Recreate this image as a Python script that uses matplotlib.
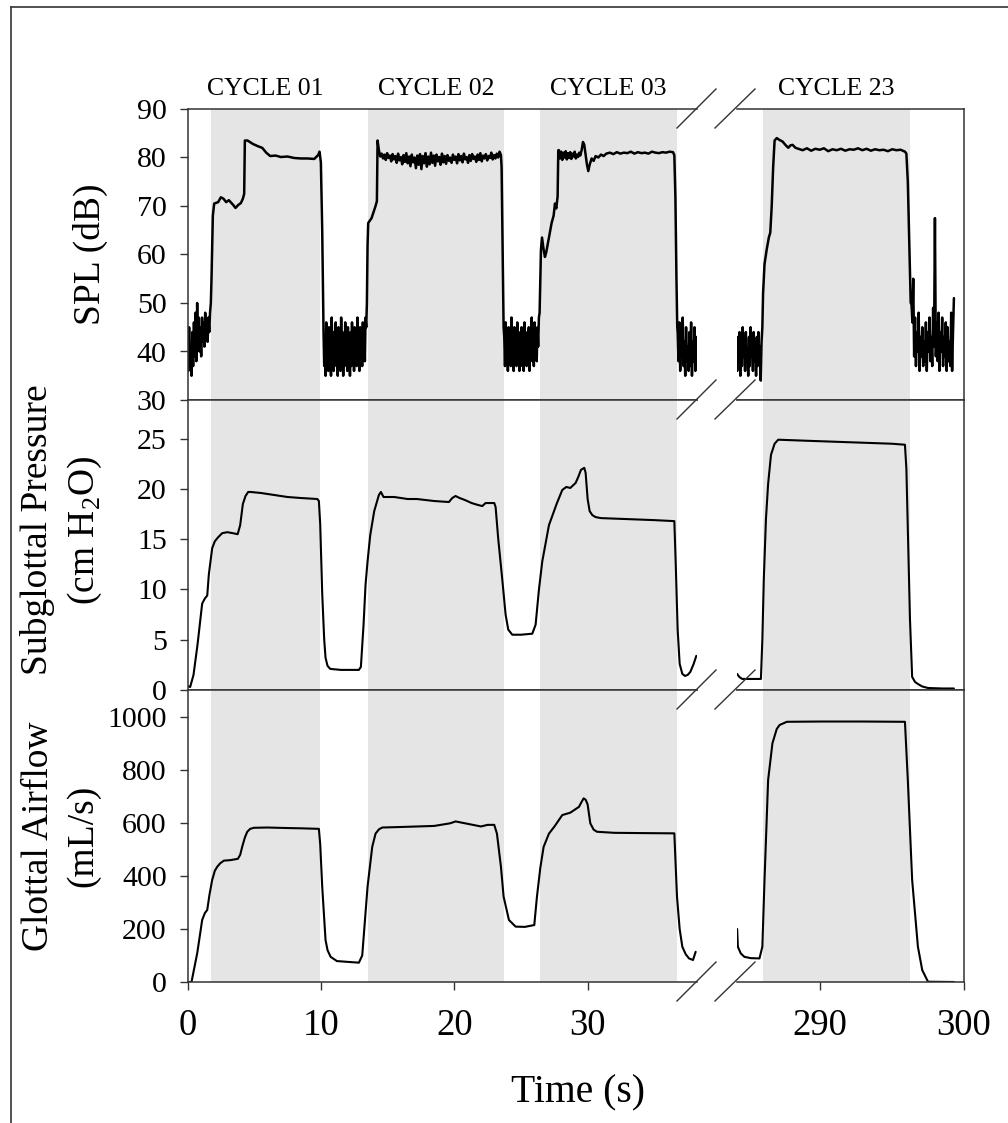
import numpy as np
import matplotlib.pyplot as plt
from matplotlib.lines import Line2D

plt.rcParams['font.family'] = ['Liberation Serif', 'DejaVu Serif']
plt.rcParams['mathtext.fontset'] = 'custom'
plt.rcParams['mathtext.rm'] = 'Liberation Serif'

# ---------------- data ----------------
cycle_names = ['CYCLE 01', 'CYCLE 02', 'CYCLE 03', 'CYCLE 23']
cycle_start = [1.76, 13.53, 26.43, 286.04]
cycle_end = [9.93, 23.73, 36.7, 296.25]

# SPL (dB) -- noisy parts are (t0, t1, samples), the rest (times, values)
spl_quiet_0 = [43, 36, 45, 38, 41, 35, 44, 37, 46, 39, 48, 38, 50, 41, 47, 40,
               45, 39, 47, 42, 46, 41, 48, 43, 46, 42, 47, 44, 48, 50]
spl_c01_t = [1.8, 1.9, 2.0, 2.3, 2.5, 2.7, 2.9, 3.1, 3.4, 3.6, 3.8, 4.0, 4.15,
             4.25, 4.3, 4.5, 4.9, 5.3, 5.6, 5.9, 6.2, 6.6, 7.0, 7.5, 8.0, 8.5,
             9.0, 9.5, 9.8, 9.9, 10.0, 10.1, 10.18]
spl_c01 = [55, 68, 70.5, 70.8, 71.8, 71.5, 70.8, 71.2, 70.3, 69.6, 70.2, 70.6,
           71.5, 72.5, 83.5, 83.5, 82.8, 82.3, 82.0, 81.0, 80.3, 80.4, 80.1,
           80.2, 79.9, 79.8, 79.8, 79.7, 80.5, 81.2, 79.0, 65, 48]
spl_quiet_1 = [44, 37, 42, 35, 46, 39, 43, 36, 45, 38, 41, 35, 47, 40, 44, 36,
               42, 38, 46, 37, 43, 35, 45, 39, 41, 36, 47, 38, 44, 35, 42, 37,
               46, 40, 43, 36, 45, 38, 41, 35, 44, 37, 46, 39, 42, 36, 45, 38,
               43, 37, 47, 40, 44, 36, 45, 39, 43, 37, 46, 41, 44, 38, 47, 45]
spl_c02_t = [13.45, 13.5, 13.55, 13.8, 14.1, 14.2, 14.25]
spl_c02 = [50, 62, 66.5, 67.5, 70, 71, 83.5]
spl_plateau_02 = [81.5, 80.2, 80.8, 79.8, 80.6, 79.5, 80.9, 79.9, 80.4, 79.2,
                  80.7, 79.6, 80.3, 78.9, 80.8, 79.4, 80.1, 78.6, 80.5, 79.1,
                  80.9, 78.8, 80.2, 78.2, 80.6, 79.0, 80.0, 77.8, 80.4, 78.5,
                  80.7, 77.6, 80.3, 78.8, 80.9, 78.1, 80.2, 78.6, 81.0, 78.9,
                  80.4, 78.3, 80.6, 79.2, 80.1, 78.5, 80.8, 79.0, 80.3, 78.7,
                  80.5, 79.3, 80.0, 78.9, 80.6, 79.5, 80.2, 78.8, 80.7, 79.4,
                  80.3, 79.0, 80.8, 79.6, 80.1, 78.9, 80.5, 79.3, 80.7, 79.7,
                  80.2, 79.1, 80.6, 79.5, 80.9, 79.2, 80.4, 79.8, 80.7, 79.4,
                  80.3, 79.9, 81.0, 79.6, 80.5, 79.8, 80.8, 80.0, 81.2, 80.5]
spl_c02b_t = [23.55, 23.62, 23.7]
spl_c02b = [78, 62, 45]
spl_quiet_2 = [43, 37, 46, 39, 44, 36, 45, 38, 42, 37, 47, 40, 43, 36, 45, 39,
               41, 37, 46, 38, 44, 36, 43, 39, 45, 37, 42, 36, 46, 40, 43, 37,
               44, 38, 45, 36, 42, 39, 47, 38, 44, 37, 46, 40, 43, 38, 45, 41,
               47, 48]
spl_c03_t = [26.45, 26.5, 26.58, 26.7, 26.8, 26.9, 27.1, 27.3, 27.45, 27.55,
             27.65, 27.75, 27.8]
spl_c03 = [55, 61, 63.5, 61, 59.5, 60.5, 63.5, 66.5, 68, 70.5, 69.5, 72, 81.5]
spl_plateau_03a = [81.5, 79.8, 81.2, 79.5, 81.0, 80.0, 81.3, 79.6, 80.9, 79.9,
                   81.1, 79.7, 80.8, 80.2, 81.2, 79.8, 80.6, 80.1, 81.0, 80.4]
spl_c03b_t = [29.55, 29.65, 29.75, 29.85, 29.95, 30.05, 30.15, 30.3, 30.45,
              30.6, 30.8, 31.0, 31.2]
spl_c03b = [81.5, 83.2, 82.6, 80.5, 78.5, 77.2, 78.5, 79.8, 79.3, 80.3, 80.0,
            80.6, 80.3]
spl_plateau_03b = [80.8, 81.0, 80.7, 81.1, 80.8, 81.0, 80.9, 81.2, 80.8, 81.1,
                   80.9, 81.0, 80.8, 81.2, 81.0, 80.9, 81.1, 81.0, 81.2, 81.1]
spl_c03c_t = [36.5, 36.58, 36.66, 36.72]
spl_c03c = [80.5, 72, 55, 45]
spl_quiet_3 = [44, 38, 46, 36, 43, 39, 47, 37, 42, 35, 45, 38, 41, 36, 44, 37,
               46, 35, 42, 38, 45, 36, 43, 40]

spl_quiet_22 = [41, 36, 43, 38, 44, 35, 42, 37, 45, 39, 41, 36, 44, 38, 40, 35,
                43, 37, 45, 39, 42, 36, 44, 38, 41, 35, 43, 37, 44, 39, 41, 34,
                42, 45]
spl_c23_t = [286.05, 286.15, 286.3, 286.45, 286.55, 286.65, 286.75, 286.85,
             287.0, 287.2, 287.4, 287.6, 287.8, 287.95, 288.1, 288.3]
spl_c23 = [52, 58, 61, 63.5, 64.5, 70, 78, 83.5, 84.0, 83.6, 83.3, 82.6, 82.0,
           82.5, 82.6, 82.0]
spl_plateau_23 = [81.8, 81.5, 81.9, 81.4, 81.8, 81.6, 81.9, 81.3, 81.7, 81.5,
                  81.8, 81.4, 81.7, 81.6, 81.9, 81.5, 81.8, 81.4, 81.7, 81.5,
                  81.6, 81.3, 81.7, 81.5, 81.6, 81.2]
spl_c23b_t = [296.0, 296.1, 296.2, 296.3]
spl_c23b = [80.8, 75, 62, 50]
spl_quiet_23 = [50, 46, 55, 39, 47, 37, 44, 40, 48, 36, 43, 39, 45, 37, 42, 38,
                46, 36, 44, 40, 47, 38, 43, 37, 49, 41, 67.5, 39, 46, 38, 48, 36,
                44, 40, 47, 37, 43, 39, 46, 36, 45, 38, 42, 37, 48, 36, 44, 51]

# Subglottal pressure (cm H2O)
press_t = [0.0, 0.2, 0.45, 0.75, 1.1, 1.3, 1.48, 1.6, 1.85, 2.05, 2.3, 2.6,
           2.98, 3.4, 3.76, 3.95, 4.15, 4.35, 4.55, 4.73, 5.5, 6.5, 7.5, 8.5,
           9.73, 9.85, 9.95, 10.1, 10.25, 10.35, 10.5, 10.7, 11.5, 12.85, 13.0,
           13.2, 13.35, 13.5, 13.7, 14.0, 14.35, 14.5, 14.7, 15.5, 16.5, 17.2,
           18.5, 19.6, 19.85, 20.1, 20.4, 20.8, 21.3, 21.8, 22.1, 22.35, 23.0,
           23.1, 23.3, 23.6, 23.85, 24.05, 24.35, 25.0, 25.85, 26.1, 26.35,
           26.6, 27.1, 27.7, 28.1, 28.4, 28.7, 29.1, 29.3, 29.5, 29.75, 29.85,
           30.0, 30.15, 30.35, 30.6, 31.0, 33.0, 35.0, 36.5, 36.6, 36.75, 36.9,
           37.1, 37.3, 37.5, 37.7, 37.95, 38.15]
press = [0.4, 0.3, 1.5, 4.5, 8.6, 9.1, 9.4, 11.5, 14.1, 14.8, 15.2, 15.6, 15.7,
         15.6, 15.5, 16.4, 18.5, 19.3, 19.7, 19.7, 19.6, 19.4, 19.2, 19.1, 19.0,
         18.8, 16.5, 9.6, 5.0, 3.2, 2.4, 2.1, 2.0, 2.0, 2.3, 6.5, 10.5, 12.8,
         15.4, 17.8, 19.4, 19.7, 19.2, 19.2, 19.0, 19.0, 18.8, 18.7, 19.1, 19.3,
         19.1, 18.9, 18.6, 18.4, 18.3, 18.6, 18.6, 18.2, 15.0, 11.0, 7.5, 6.0,
         5.5, 5.5, 5.6, 6.5, 10.0, 12.8, 16.4, 18.6, 19.9, 20.2, 20.1, 20.6,
         21.2, 21.9, 22.1, 21.6, 19.0, 17.8, 17.4, 17.2, 17.1, 17.0, 16.9, 16.8,
         12.8, 6.0, 2.6, 1.6, 1.4, 1.5, 1.8, 2.6, 3.4]
press23_t = [284.25, 284.4, 284.6, 285.3, 285.9, 286.0, 286.1, 286.25, 286.4,
             286.6, 286.85, 287.1, 289.0, 291.0, 293.0, 295.0, 295.9, 296.0,
             296.1, 296.25, 296.4, 296.6, 296.8, 297.1, 297.5, 298.5, 299.3]
press23 = [1.6, 1.3, 1.1, 1.1, 1.1, 5.0, 11.0, 17.0, 20.5, 23.4, 24.5, 24.9,
           24.8, 24.7, 24.6, 24.5, 24.4, 22.0, 16.0, 7.0, 1.3, 0.8, 0.6, 0.35,
           0.2, 0.15, 0.15]

# Glottal airflow (mL/s)
flow_t = [0.05, 0.3, 0.73, 1.1, 1.3, 1.48, 1.65, 1.85, 2.05, 2.23, 2.45, 2.73,
          3.23, 3.78, 3.95, 4.1, 4.3, 4.48, 4.7, 4.98, 6.0, 7.5, 8.5, 9.85,
          9.95, 10.1, 10.35, 10.5, 10.73, 11.2, 12.0, 12.85, 13.1, 13.3, 13.5,
          13.85, 14.1, 14.35, 14.6, 16.0, 18.5, 19.7, 20.1, 20.5, 21.2, 22.0,
          22.5, 23.0, 23.2, 23.5, 23.7, 24.1, 24.6, 25.3, 26.0, 26.2, 26.45,
          26.7, 27.1, 27.5, 28.1, 28.7, 29.35, 29.55, 29.7, 29.85, 30.0, 30.2,
          30.45, 30.7, 32.0, 34.0, 36.5, 36.7, 36.9, 37.1, 37.35, 37.6, 37.9,
          38.1]
flow = [0, 0, 109, 234, 260, 272, 330, 385, 420, 435, 448, 458, 460, 465, 480,
        510, 545, 567, 578, 582, 583, 581, 580, 578, 520, 360, 158, 120, 95, 79,
        76, 73, 100, 230, 360, 510, 560, 576, 583, 585, 589, 599, 606, 602, 595,
        587, 593, 593, 560, 435, 322, 234, 209, 208, 215, 322, 430, 510, 560,
        586, 630, 639, 661, 680, 693, 688, 670, 599, 575, 567, 563, 562, 561,
        322, 200, 133, 105, 89, 83, 114]
flow23_t = [284.25, 284.3, 284.5, 284.75, 285.2, 285.8, 286.0, 286.15, 286.4,
            286.7, 287.0, 287.2, 287.7, 290.0, 293.0, 295.9, 296.1, 296.4,
            296.8, 297.1, 297.5, 299.3]
flow23 = [200, 133, 108, 95, 90, 89, 133, 385, 762, 901, 955, 970, 982, 983,
          983, 982, 762, 385, 133, 45, 1, 0]


def build(parts):
    ts, vs = [], []
    for p in parts:
        if len(p) == 3:   # evenly sampled noisy stretch
            ts.append(np.linspace(p[0], p[1], len(p[2])))
            vs.append(np.asarray(p[2], float))
        else:
            ts.append(np.asarray(p[0], float))
            vs.append(np.asarray(p[1], float))
    return np.concatenate(ts), np.concatenate(vs)


spl_lt, spl_lv = build([(0.0, 1.75, spl_quiet_0), (spl_c01_t, spl_c01),
                        (10.2, 13.4, spl_quiet_1), (spl_c02_t, spl_c02),
                        (14.35, 23.5, spl_plateau_02), (spl_c02b_t, spl_c02b),
                        (23.75, 26.4, spl_quiet_2), (spl_c03_t, spl_c03),
                        (27.85, 29.45, spl_plateau_03a), (spl_c03b_t, spl_c03b),
                        (31.4, 36.4, spl_plateau_03b), (spl_c03c_t, spl_c03c),
                        (36.75, 38.2, spl_quiet_3)])
spl_rt, spl_rv = build([(284.2, 286.0, spl_quiet_22), (spl_c23_t, spl_c23),
                        (288.5, 295.9, spl_plateau_23), (spl_c23b_t, spl_c23b),
                        (296.35, 299.3, spl_quiet_23)])

# ---------------- layout (pixels of the 1008 x 1123 picture) ----------------
W, H = 1008, 1123
fig = plt.figure(figsize=(W / 100, H / 100), dpi=100)

cols = [(187.5, 697), (737, 964)]
rows = [(109, 400), (400, 690), (690, 982)]
xlims = [(0, 38.2), (284.24, 300)]
ylims = [(30, 90), (0, 28.85), (0, 1102)]
yticks = [np.arange(30, 91, 10), np.arange(0, 26, 5), np.arange(0, 1001, 200)]
xticks = [[0, 10, 20, 30], [290, 300]]
edge = '#333333'
series = [[(spl_lt, spl_lv), (spl_rt, spl_rv)],
          [(press_t, press), (press23_t, press23)],
          [(flow_t, flow), (flow23_t, flow23)]]
lws = [1.8, 1.5, 1.5]

axes = {}
for r, (y0, y1) in enumerate(rows):
    for c, (x0, x1) in enumerate(cols):
        ax = fig.add_axes([x0 / W, 1 - y1 / H, (x1 - x0) / W, (y1 - y0) / H])
        axes[r, c] = ax
        ax.set_xlim(*xlims[c])
        ax.set_ylim(*ylims[r])
        for s0, s1 in zip(cycle_start, cycle_end):
            ax.axvspan(s0, s1, color='#e5e5e5', lw=0, zorder=0)
        t, v = series[r][c]
        ax.plot(t, v, color='black', lw=lws[r], zorder=2,
                solid_joinstyle='round', solid_capstyle='round')
        for sp in ax.spines.values():
            sp.set_color(edge)
            sp.set_linewidth(1.1)
        ax.spines['right' if c == 0 else 'left'].set_visible(False)
        ax.tick_params(direction='out', length=6, width=1.0, color=edge)
        if c == 0:
            ax.set_yticks(yticks[r])
            ax.tick_params(axis='y', labelsize=21.5, pad=9)
        else:
            ax.set_yticks([])
        if r == 2:
            ax.set_xticks(xticks[c])
            ax.tick_params(axis='x', labelsize=26.5, pad=13)
        else:
            ax.set_xticks([])

# cycle labels above the top panels
for name, s0, s1 in zip(cycle_names, cycle_start, cycle_end):
    ax = axes[0, 0] if s1 < 100 else axes[0, 1]
    ax.text((s0 + s1) / 2, 1.07, name, transform=ax.get_xaxis_transform(),
            ha='center', va='center', fontsize=18.5)

# axis labels
fig.text(90 / W, 1 - 254 / H, 'SPL (dB)', rotation=90, ha='center', va='center', fontsize=27)
fig.text(38 / W, 1 - 530 / H, 'Subglottal Pressure', rotation=90, ha='center', va='center', fontsize=27)
fig.text(85 / W, 1 - 530 / H, '(cm H$_2$O)', rotation=90, ha='center', va='center', fontsize=27)
fig.text(39 / W, 1 - 836 / H, 'Glottal Airflow', rotation=90, ha='center', va='center', fontsize=27)
fig.text(83 / W, 1 - 836 / H, '(mL/s)', rotation=90, ha='center', va='center', fontsize=27)
fig.text(578 / W, 1 - 1093 / H, 'Time (s)', ha='center', va='center', fontsize=28.5)


def pxline(xs, ys, **kw):
    fig.add_artist(Line2D([x / W for x in xs], [1 - y / H for y in ys],
                          transform=fig.transFigure, **kw))


# axis-break slashes on every horizontal boundary
for yb in [109, 400, 690, 982]:
    pxline([677, 716], [yb + 19, yb - 20], color=edge, lw=1.0)
    pxline([715, 755], [yb + 19, yb - 20], color=edge, lw=1.0)

# outer frame (top and left edges visible in the picture)
pxline([11, 1008], [7, 7], color=edge, lw=1.2)
pxline([11, 11], [7, 1123], color=edge, lw=1.2)

fig.savefig('out.png', dpi=100)
